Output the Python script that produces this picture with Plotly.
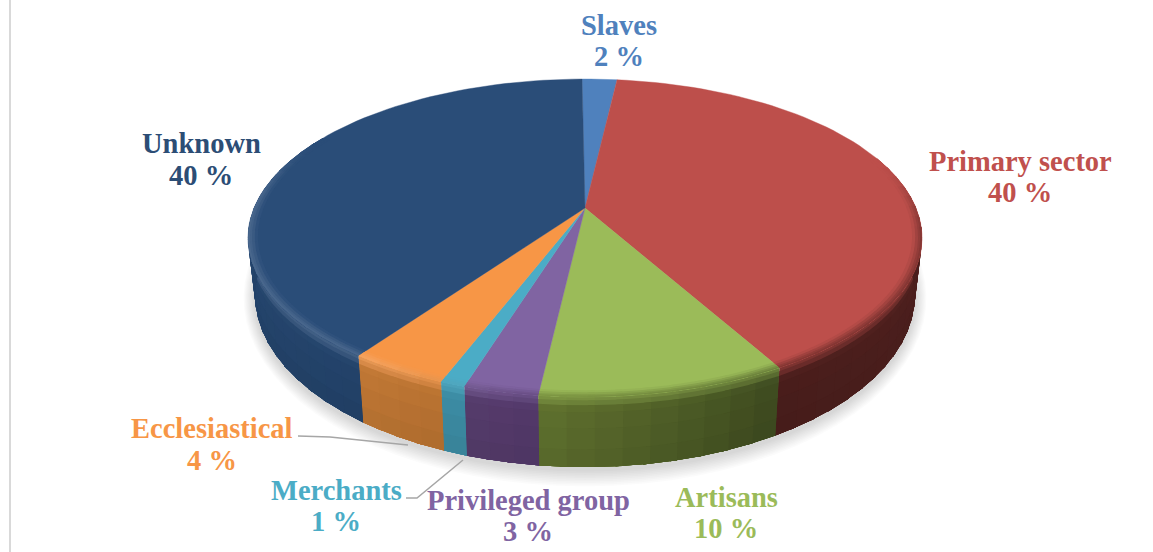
import math
import plotly.graph_objects as go

# Occupational shares, clockwise from twelve o'clock
categories = ["Slaves", "Primary sector", "Artisans", "Privileged group",
              "Merchants", "Ecclesiastical", "Unknown"]
shares = [2, 40, 10, 3, 1, 4, 40]

top_colours = ["#4f81bd", "#bd4f4b", "#9bbb59", "#8064a2", "#4bacc6", "#f79646", "#2a4d78"]
text_colours = ["#4f81bd", "#c0504d", "#9bbb59", "#8064a2", "#4bacc6", "#f79646", "#2c4d75"]
# Wall colour at the right-hand and left-hand end of each slice
wall_right = ["#3c679c", "#5a2624", "#3f4c20", "#54396a", "#3d8ea6", "#bc7432", "#24446c"]
wall_left = ["#3c679c", "#4b1e1c", "#61732f", "#573e6e", "#3d8ea6", "#c47a35", "#2a4e7a"]

# Label placement: centre x, first line y, second line y
label_places = [(619, 25, 56), (1020, 161, 192), (726, 497, 528), (528, 500, 531),
                (336, 490, 521), (212, 428, 460), (201, 143, 175)]
LABEL_FONT = "Liberation Serif"
LABEL_SIZE = 28.5

# Perspective model of the disc
APEX_X = 585
TILT = 0.1887
START_DEG = -0.6


def project(theta_deg, radius=1.0, face="top"):
    t = math.radians(theta_deg)
    px, py = radius * math.sin(t), radius * math.cos(t)
    d = 1 + TILT * py
    if face == "top":
        return APEX_X + 331 * px / d, 208 - 153.3 * py / d
    return APEX_X + 324 * px / d, 262.6 - 165.9 * py / d


def hex_rgb(c):
    return tuple(int(c[i:i + 2], 16) for i in (1, 3, 5))


def mix(a, b, f):
    f = max(0.0, min(1.0, f))
    ra, rb = hex_rgb(a), hex_rgb(b)
    return "#%02x%02x%02x" % tuple(round(x + (y - x) * f) for x, y in zip(ra, rb))


def smooth(a, b, v):
    f = max(0.0, min(1.0, (v - a) / (b - a)))
    return f * f * (3 - 2 * f)


def steps(a, b, size):
    n = max(1, math.ceil((b - a) / size))
    return [a + (b - a) * i / n for i in range(n + 1)]


def rim_point(th, t):
    xa, ya = project(th)
    xb, yb = project(th, face="bottom")
    return xa + (xb - xa) * t, ya + (yb - ya) * t


fig = go.Figure()


def polygon(points, colour, edge=0.0):
    xs = [p[0] for p in points] + [points[0][0]]
    ys = [p[1] for p in points] + [points[0][1]]
    fig.add_trace(go.Scatter(
        x=xs, y=ys, mode="lines", fill="toself", fillcolor=colour,
        line=dict(color=colour, width=edge),
        hoverinfo="skip", showlegend=False))


# Cumulative slice limits in degrees
limits = []
running = 0
for value in shares:
    a = START_DEG + running * 3.6
    running += value
    limits.append((a, START_DEG + running * 3.6))

# Soft drop shadow under the disc
for i in range(10, 0, -1):
    pts = []
    for th in range(0, 360, 4):
        x, y = project(th, face="bottom")
        pts.append((APEX_X + (x - APEX_X) * (1 + i * 0.0035), 298 + (y - 295) * (1 + i * 0.0095)))
    polygon(pts, "rgba(0,0,0,0.014)")

# Side wall: one full pass per vertical band, columns overlapping their
# neighbours, so the shading stays free of hairline gaps and streaks
WALL_BANDS = [0, 0.05, 0.12, 0.22, 0.45, 0.75]
for n, t0 in enumerate(WALL_BANDS):
    t1 = WALL_BANDS[n + 1] if n + 1 < len(WALL_BANDS) else 1
    tm = (t0 + t1) / 2
    for k, (a, b) in enumerate(limits):
        lo, hi = max(a, 70), min(b, 290)
        if lo >= hi:
            continue
        grid = steps(lo, hi, 4)
        for th0, th1 in zip(grid, grid[1:]):
            mid = (th0 + th1) / 2
            f = (mid - a) / (b - a)
            wall = mix(wall_right[k], wall_left[k], f)
            glow = smooth(185, 220, mid) * 0.55
            lit = mix(mix(wall, top_colours[k], 0.45 + glow * 0.3), "#ffffff", glow * 0.22)
            far = min(th1 + 1, hi)
            shade = mix(mix(lit, wall, smooth(0, 0.2, tm)), "#000000", 0.08 * tm)
            polygon([rim_point(th0, t0), rim_point(far, t0), rim_point(far, 1), rim_point(th0, 1)], shade)

# Top face of each slice
for k, (a, b) in enumerate(limits):
    pts = [(APEX_X, 208)] + [project(th) for th in steps(a, b, 2)]
    polygon(pts, top_colours[k], edge=0.4)

# Bevel along the outer edge of the top face, one pass per ring
RIM_BANDS = [0.972, 0.981, 0.989, 0.995]
for n, r0 in enumerate(RIM_BANDS):
    r1 = RIM_BANDS[n + 1] if n + 1 < len(RIM_BANDS) else 1
    amount = ((r0 + r1) / 2 - RIM_BANDS[0]) / (1 - RIM_BANDS[0])
    for k, (a, b) in enumerate(limits):
        lo, hi = max(a, 70), min(b, 300)
        if lo >= hi:
            continue
        grid = steps(lo, hi, 4)
        for th0, th1 in zip(grid, grid[1:]):
            mid = (th0 + th1) / 2
            strength = smooth(70, 100, mid) * (1 - smooth(270, 300, mid))
            f = (mid - a) / (b - a)
            wall = mix(wall_right[k], wall_left[k], f)
            glow = smooth(185, 220, mid)
            edge = mix(mix(top_colours[k], wall, 0.55), mix(top_colours[k], "#ffffff", 0.16), glow)
            far = min(th1 + 1, hi)
            shade = mix(top_colours[k], edge, strength * amount)
            polygon([project(th0, r0), project(far, r0), project(far, 1), project(th0, 1)], shade)

# Two-line data labels
annotations = []
for name, value, colour, (cx, y1, y2) in zip(categories, shares, text_colours, label_places):
    for text, y in ((name, y1), (f"{value} %", y2)):
        annotations.append(dict(
            x=cx, y=y, xref="x", yref="y", text=f"<b>{text}</b>", showarrow=False,
            xanchor="center", yanchor="middle",
            font=dict(family=LABEL_FONT, size=LABEL_SIZE, color=colour)))

# Leader lines for the two labels set away from their slices
LEADER = dict(color="#a6a6a6", width=1.5)
fig.add_trace(go.Scatter(x=[298, 330, 408], y=[436, 437, 445], mode="lines", line=LEADER,
                         hoverinfo="skip", showlegend=False))
fig.add_trace(go.Scatter(x=[406, 417, 463], y=[498, 498, 460], mode="lines", line=LEADER,
                         hoverinfo="skip", showlegend=False))

fig.update_layout(
    width=1153, height=552, margin=dict(l=0, r=0, t=0, b=0),
    paper_bgcolor="white", plot_bgcolor="white", showlegend=False,
    xaxis=dict(range=[0, 1153], visible=False, fixedrange=True),
    yaxis=dict(range=[552, 0], visible=False, fixedrange=True),
    annotations=annotations,
    # Chart frame, only its left side falls within the view
    shapes=[dict(type="line", xref="x", yref="y", x0=10, x1=10, y0=0, y1=552,
                 line=dict(color="#d9d9d9", width=2))],
)

fig.write_html("out.html", config={"displayModeBar": False})
